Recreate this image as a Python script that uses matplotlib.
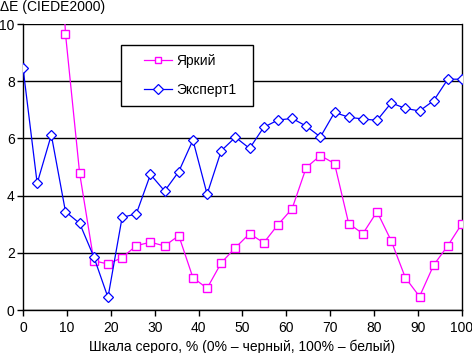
import numpy as np
import matplotlib
matplotlib.use("Agg")
import matplotlib.pyplot as plt
from matplotlib.patches import Rectangle

plt.rcParams['font.family'] = ['Liberation Sans', 'DejaVu Sans']

W, H = 472, 353

# gray level, % (32 steps from black to white)
gray_pct = np.linspace(0, 100, 32)

# ΔE for the "Яркий" mode (first points are off the chart)
yarkiy = [26.0, 23.0, 19.4, 9.66, 4.78, 1.72, 1.61, 1.83, 2.25, 2.37, 2.24,
          2.60, 1.13, 0.76, 1.65, 2.18, 2.67, 2.35, 2.98, 3.54, 4.98, 5.40,
          5.12, 3.02, 2.67, 3.44, 2.42, 1.13, 0.47, 1.57, 2.25, 3.02]

# ΔE for the "Эксперт1" mode
expert1 = [8.47, 4.43, 6.12, 3.44, 3.03, 1.86, 0.44, 3.24, 3.36, 4.74, 4.16,
           4.84, 5.94, 4.05, 5.57, 6.04, 5.65, 6.39, 6.64, 6.70, 6.43, 6.05,
           6.91, 6.74, 6.68, 6.63, 7.24, 7.05, 6.96, 7.32, 8.07, 8.07]

x_ticks = np.arange(0, 101, 10)
y_ticks = np.arange(0, 11, 2)

fig = plt.figure(figsize=(W / 100, H / 100), dpi=100)
ax = fig.add_axes([23 / W, 1 - 310 / H, 439 / W, 286 / H])

ax.yaxis.grid(True, color='black', lw=1.0)
ax.set_axisbelow(True)

l1, = ax.plot(gray_pct, yarkiy, color='#FF00FF', lw=0.9, marker='s', ms=5.5,
              mfc='white', mec='#FF00FF', mew=1.0, label='Яркий', zorder=3)
l2, = ax.plot(gray_pct, expert1, color='#0000FF', lw=0.9, marker='D', ms=5.5,
              mfc='white', mec='#0000FF', mew=0.9, label='Эксперт1', zorder=4)

ax.set_xlim(0, 100)
ax.set_ylim(0, 10)
ax.set_xticks(x_ticks)
ax.set_yticks(y_ticks)
ax.tick_params(direction='out', length=4, width=1, labelsize=10)
ax.tick_params(axis='x', pad=4)
ax.tick_params(axis='y', pad=2)

for side in ['left', 'bottom', 'right']:
    ax.spines[side].set_color('black')
    ax.spines[side].set_linewidth(1.0)
ax.spines['top'].set_visible(False)

ax.set_xlabel('Шкала серого, % (0% – черный, 100% – белый)', fontsize=10, labelpad=3)
fig.text(0.0, 1 - 7 / H, 'ΔE (CIEDE2000)', fontsize=10, va='center', ha='left')

# legend box drawn by hand so the padding matches the original
box = Rectangle((121 / W, 1 - 106 / H), 132 / W, 61 / H, transform=fig.transFigure,
                facecolor='white', edgecolor='black', lw=1.0, zorder=5, clip_on=False)
ax.add_patch(box)

leg = ax.legend(handles=[l1, l2], loc='center left',
                bbox_to_anchor=(144 / W, 1 - 75.5 / H), bbox_transform=fig.transFigure,
                frameon=False, fontsize=10, handlelength=2.0, handletextpad=0.3,
                borderpad=0, labelspacing=1.05, borderaxespad=0, markerscale=0.9)
leg.set_zorder(6)

plt.savefig('out.png', dpi=100)
